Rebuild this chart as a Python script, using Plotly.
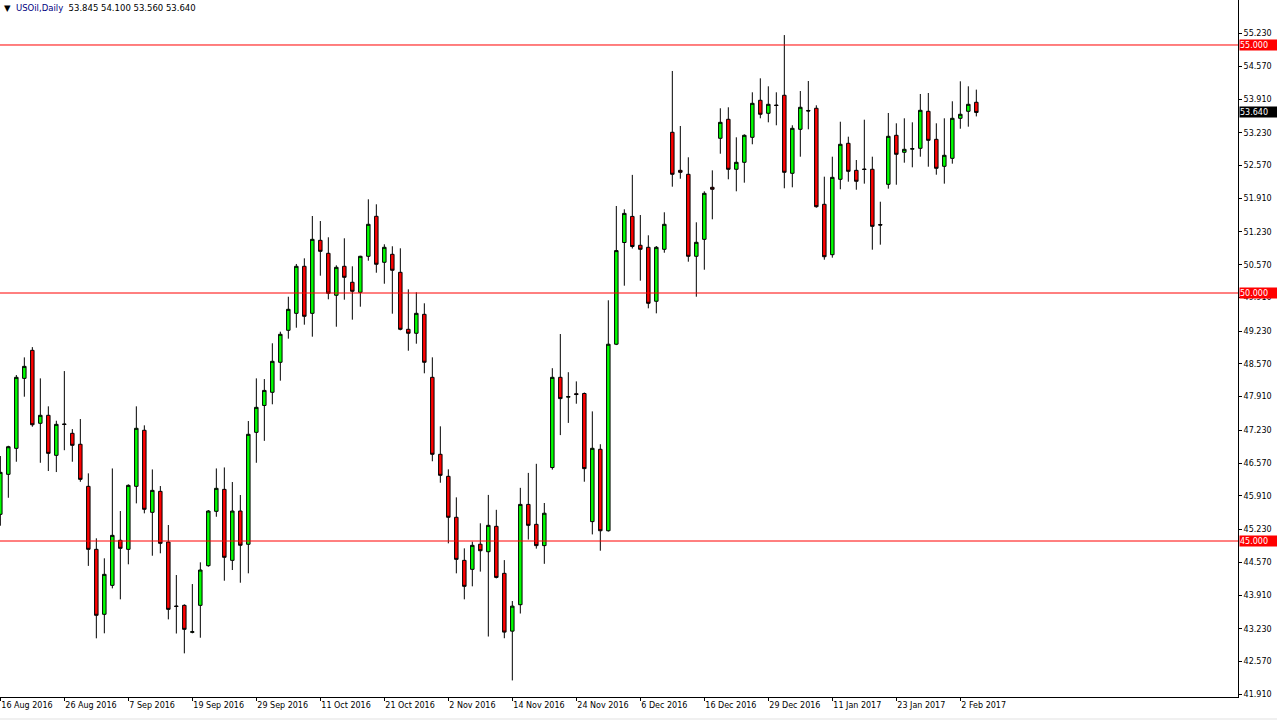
import plotly.graph_objects as go

# ---- data (daily candles, USOil) ----
opens = [45.538, 46.344, 46.868, 48.279, 48.844, 47.373, 47.534, 46.727, 47.36, 47.171,
         46.950, 46.102, 44.832, 43.522, 44.106, 45.014, 44.832, 46.102, 47.232, 45.578,
         46.001, 44.979, 43.69, 43.703, 43.16, 43.703, 44.502, 45.598, 46.041, 44.610,
         45.604, 44.934, 47.191, 47.733, 47.998, 48.603, 49.248, 49.590, 50.538, 49.590,
         51.062, 50.800, 49.954, 50.538, 50.216, 50.014, 50.740, 51.546, 50.619, 50.780,
         50.417, 49.268, 49.188, 49.570, 48.300, 46.748, 46.304, 45.478, 44.610, 44.429,
         44.935, 44.784, 45.296, 44.348, 43.183, 43.716, 45.738, 45.336, 44.907, 46.481,
         48.300, 47.90, 47.97, 47.974, 45.391, 46.849, 45.207, 48.967, 51.018, 51.544,
         50.962, 50.921, 49.833, 50.881, 53.240, 52.473, 52.393, 50.740, 51.082, 52.131,
         53.119, 53.502, 52.494, 52.635, 53.139, 53.885, 53.623, 53.79, 53.986, 52.413,
         53.300, 53.68, 53.724, 51.788, 50.772, 52.292, 53.018, 52.473, 52.50, 52.494,
         51.38, 52.191, 53.179, 52.837, 52.90, 52.917, 53.663, 53.098, 52.554, 52.715,
         53.522, 53.663, 53.845]
highs = [46.713, 46.92, 48.346, 48.702, 48.909, 48.279, 47.715, 47.425, 48.426, 47.256,
         47.459, 46.364, 45.054, 44.651, 46.463, 45.604, 46.142, 47.715, 47.332, 46.443,
         46.108, 45.322, 44.314, 43.723, 44.132, 44.570, 45.624, 46.463, 46.483, 46.189,
         45.927, 47.419, 48.279, 48.265, 48.986, 49.220, 49.925, 50.585, 50.699, 51.552,
         51.451, 51.123, 50.558, 51.103, 50.538, 50.750, 51.889, 51.788, 50.982, 50.942,
         50.901, 50.074, 50.014, 49.792, 48.703, 47.312, 46.445, 45.880, 44.852, 44.986,
         45.357, 45.929, 45.629, 44.615, 43.790, 46.072, 46.373, 46.556, 45.766, 48.484,
         49.173, 48.403, 48.218, 47.994, 47.613, 46.951, 49.853, 51.754, 51.687, 52.381,
         51.572, 51.163, 50.947, 51.627, 54.476, 53.367, 52.736, 51.425, 52.050, 52.473,
         53.724, 53.744, 53.139, 53.199, 54.046, 54.328, 54.167, 54.046, 55.20, 53.381,
         54.072, 54.274, 53.784, 52.345, 52.748, 53.453, 53.151, 52.681, 53.494, 52.748,
         51.840, 53.629, 53.421, 53.522, 53.441, 54.012, 54.032, 53.421, 53.522, 53.865,
         54.268, 54.167, 54.100]
lows = [45.308, 45.872, 46.598, 47.909, 47.304, 46.577, 46.411, 46.390, 46.830, 46.598,
        46.194, 44.498, 43.038, 43.139, 44.045, 43.824, 44.530, 45.759, 45.558, 44.703,
        44.752, 43.420, 43.135, 42.735, 43.139, 43.050, 44.482, 45.489, 44.199, 44.415,
        44.159, 44.348, 46.577, 47.019, 47.756, 48.232, 49.079, 49.300, 49.361, 49.119,
        50.349, 49.873, 49.320, 49.865, 49.462, 49.724, 50.651, 50.409, 50.187, 49.583,
        49.248, 48.836, 48.978, 48.381, 46.607, 46.175, 44.953, 44.348, 43.824, 44.086,
        44.383, 43.074, 44.246, 43.040, 42.189, 43.538, 45.030, 44.846, 44.540, 46.439,
        47.135, 47.381, 47.768, 46.195, 45.133, 44.804, 45.19, 48.95, 50.147, 50.897,
        50.248, 49.691, 49.590, 50.812, 52.143, 52.304, 50.631, 49.925, 50.469, 51.486,
        52.808, 52.292, 52.050, 52.224, 52.998, 53.522, 53.441, 53.381, 52.111, 52.131,
        52.748, 53.300, 51.720, 50.671, 50.712, 52.091, 52.244, 52.082, 52.204, 50.873,
        50.974, 52.103, 52.183, 52.627, 52.534, 52.748, 52.546, 52.385, 52.204, 52.607,
        53.312, 53.353, 53.560]
closes = [46.384, 46.901, 48.300, 48.521, 47.344, 47.534, 46.767, 47.352, 47.35, 46.929,
          46.243, 44.832, 43.502, 44.328, 45.114, 44.852, 46.122, 47.272, 45.639, 46.021,
          44.953, 43.622, 43.68, 43.219, 43.17, 44.415, 45.604, 46.062, 44.671, 45.604,
          44.914, 47.151, 47.695, 48.036, 48.623, 49.167, 49.671, 50.538, 49.530, 51.082,
          50.840, 49.994, 50.518, 50.316, 50.034, 50.740, 51.385, 50.579, 50.921, 50.458,
          49.268, 49.188, 49.590, 48.603, 46.748, 46.324, 45.478, 44.630, 44.086, 44.913,
          44.804, 45.316, 44.266, 43.163, 43.687, 45.738, 45.316, 44.907, 45.560, 48.300,
          47.871, 47.911, 47.953, 46.459, 46.869, 45.207, 48.967, 50.855, 51.605, 50.937,
          50.881, 49.792, 50.921, 51.385, 52.393, 52.433, 50.740, 51.022, 52.010, 52.091,
          53.441, 52.494, 52.635, 53.179, 53.824, 53.603, 53.804, 53.78, 52.433, 53.320,
          53.744, 53.67, 51.740, 50.732, 52.332, 52.998, 52.453, 52.252, 52.49, 51.344,
          51.37, 53.159, 52.796, 52.897, 52.91, 53.683, 53.078, 52.514, 52.776, 53.522,
          53.603, 53.804, 53.640]
bar_index = list(range(len(opens)))

date_tick_index = [0, 8, 16, 24, 32, 40, 48, 56, 64, 72, 80, 88, 96, 104, 112, 120]
date_labels = ["16 Aug 2016", "26 Aug 2016", "7 Sep 2016", "19 Sep 2016", "29 Sep 2016",
               "11 Oct 2016", "21 Oct 2016", "2 Nov 2016", "14 Nov 2016", "24 Nov 2016",
               "6 Dec 2016", "16 Dec 2016", "29 Dec 2016", "11 Jan 2017", "23 Jan 2017",
               "2 Feb 2017"]
price_ticks = [55.23, 54.57, 53.91, 53.23, 52.57, 51.91, 51.23, 50.57, 49.91, 49.23, 48.57,
               47.91, 47.23, 46.57, 45.91, 45.23, 44.57, 43.91, 43.23, 42.57, 41.91]
levels = [55.0, 50.0, 45.0]
symbol = "USOil,Daily"
last_ohlc = [53.845, 54.100, 53.560, 53.640]

FONT = "DejaVu Sans"

fig = go.Figure(go.Candlestick(
    x=bar_index, open=opens, high=highs, low=lows, close=closes,
    increasing=dict(fillcolor="#00FF00", line=dict(color="black", width=1)),
    decreasing=dict(fillcolor="#FF0000", line=dict(color="black", width=1)),
    whiskerwidth=0, hoverinfo="skip",
))

for lv in levels:
    fig.add_hline(y=lv, line=dict(color="#FF0000", width=1))
    fig.add_annotation(xref="paper", x=1, xanchor="left", yref="y", y=lv, text=f"{lv:.3f}",
                       showarrow=False, bgcolor="#FF0000", font=dict(family=FONT, size=8, color="white"),
                       width=37, height=10, borderpad=0, align="left", xshift=1)

fig.add_annotation(xref="paper", x=1, xanchor="left", yref="y", y=last_ohlc[3],
                   text=f"{last_ohlc[3]:.3f}", showarrow=False, bgcolor="black",
                   font=dict(family=FONT, size=8, color="white"),
                   width=37, height=10, borderpad=0, align="left", xshift=1)

fig.add_annotation(xref="paper", yref="paper", x=0, y=1, xanchor="left", yanchor="top",
                   xshift=2, yshift=-1, showarrow=False, align="left",
                   text="▼  <span style='color:#000080'>" + symbol + "</span>  "
                        + " ".join(f"{v:.3f}" for v in last_ohlc),
                   font=dict(family=FONT, size=8.5, color="black"))

# light window strip along the very bottom edge
fig.add_shape(type="rect", xref="paper", yref="paper", x0=0, x1=1277 / 1238,
              y0=-23 / 697, y1=-21 / 697, line=dict(width=0), fillcolor="#F0F0F0", layer="below")

fig.update_layout(
    width=1277, height=720, margin=dict(l=0, r=39, t=0, b=23, pad=0),
    paper_bgcolor="white", plot_bgcolor="white", showlegend=False, boxgap=0.38,
    xaxis=dict(range=[-0.041, 154.71], showgrid=False, zeroline=False, showline=True,
               linecolor="black", linewidth=1, ticks="outside", ticklen=3, tickcolor="black",
               tickvals=date_tick_index, ticktext=date_labels, ticklabelposition="outside right",
               tickfont=dict(family=FONT, size=8, color="black"),
               rangeslider=dict(visible=False), automargin=False, fixedrange=True),
    yaxis=dict(side="right", range=[41.855, 55.907], showgrid=False, zeroline=False,
               showline=True, linecolor="black", linewidth=1, ticks="outside", ticklen=3,
               tickcolor="black", tickvals=price_ticks,
               ticktext=[f"{v:.3f}" for v in price_ticks],
               tickfont=dict(family=FONT, size=8, color="black"), automargin=False,
               fixedrange=True),
)

fig.write_html("out.html", config={"displayModeBar": False},
               post_script="document.body.style.margin='0';document.body.style.overflow='hidden';")
